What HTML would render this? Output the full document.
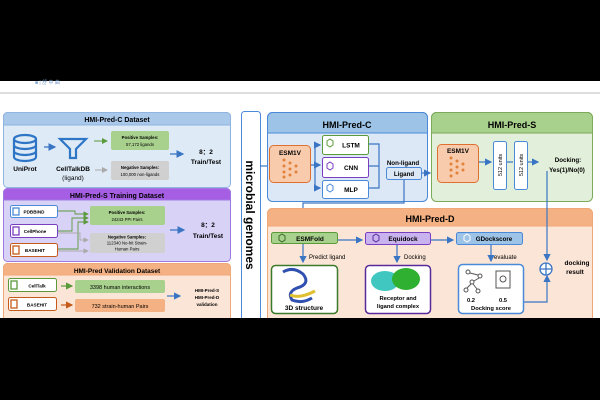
<!DOCTYPE html>
<html><head><meta charset="utf-8"><style>
html,body{margin:0;padding:0;width:600px;height:400px;overflow:hidden;background:#fff}
svg{display:block;font-family:"Liberation Sans",Arial,sans-serif;font-weight:bold}
</style></head><body>
<svg width="600" height="400" viewBox="0 0 600 400" xmlns="http://www.w3.org/2000/svg">
<defs>
<marker id="ab" markerWidth="6" markerHeight="6" refX="5" refY="3" orient="auto"><path d="M0,0 L6,3 L0,6z" fill="#3a75c4"/></marker>
<marker id="ag" markerWidth="6" markerHeight="6" refX="5" refY="3" orient="auto"><path d="M0,0 L6,3 L0,6z" fill="#5a9a3a"/></marker>
<marker id="ay" markerWidth="6" markerHeight="6" refX="5" refY="3" orient="auto"><path d="M0,0 L6,3 L0,6z" fill="#aaa"/></marker>
<marker id="ao" markerWidth="6" markerHeight="6" refX="5" refY="3" orient="auto"><path d="M0,0 L6,3 L0,6z" fill="#c55a1a"/></marker>
</defs>
<rect x="0" y="0" width="600" height="81" fill="#000"/>
<text x="35" y="84" font-size="5" fill="#7aa0d0" font-weight="normal">■ | 舒 中 曲</text>
<rect x="0" y="92" width="600" height="2" fill="#ddd"/>

<!-- LEFT: C Dataset -->
<rect x="3.5" y="112.5" width="227" height="75" rx="4" fill="#deebf7" stroke="#8fb4e0"/>
<path d="M3.5,125 V116.5 a4,4 0 0 1 4,-4 H226.5 a4,4 0 0 1 4,4 V125z" fill="#a9c8ea" stroke="#8fb4e0"/>
<text x="117" y="122" font-size="7" text-anchor="middle">HMI-Pred-C Dataset</text>
<g fill="none" stroke="#2e75c6" stroke-width="2.2">
<ellipse cx="25" cy="139" rx="11" ry="4"/><path d="M14,139 V157 a11,4 0 0 0 22,0 V139 M14,145 a11,4 0 0 0 22,0 M14,151 a11,4 0 0 0 22,0"/>
<path d="M60,139 H86 L76,149 V158 H70 V149z"/>
</g>
<text x="25" y="171" font-size="6.5" text-anchor="middle">UniProt</text>
<text x="73" y="171" font-size="6.5" text-anchor="middle">CellTalkDB</text>
<text x="73" y="180" font-size="6.5" text-anchor="middle" font-weight="normal">(ligand)</text>
<line x1="44" y1="147" x2="55" y2="147" stroke="#3a75c4" stroke-width="1.3" marker-end="url(#ab)"/>
<line x1="94" y1="141" x2="107" y2="141" stroke="#5a9a3a" stroke-width="1" marker-end="url(#ag)"/>
<line x1="95" y1="170" x2="107" y2="170" stroke="#aaa" stroke-width="1" marker-end="url(#ay)"/>
<rect x="111" y="131" width="58" height="19" rx="2" fill="#a9d18e"/>
<text x="140" y="139" font-size="4.3" text-anchor="middle">Positive Samples:</text>
<text x="140" y="146" font-size="4.3" text-anchor="middle" font-weight="normal">57,172 ligands</text>
<rect x="111" y="161" width="58" height="19" rx="2" fill="#d0d0d0"/>
<text x="140" y="169" font-size="4.3" text-anchor="middle">Negative Samples:</text>
<text x="140" y="176" font-size="4.3" text-anchor="middle" font-weight="normal">100,000 non-ligands</text>
<line x1="170" y1="154" x2="183" y2="154" stroke="#3a75c4" stroke-width="1.3" marker-end="url(#ab)"/>
<text x="206" y="154" font-size="6.5" text-anchor="middle">8：2</text>
<text x="206" y="164" font-size="6.5" text-anchor="middle">Train/Test</text>

<!-- LEFT: S Training -->
<rect x="3.5" y="188.5" width="227" height="73" rx="4" fill="#d9d2f7" stroke="#a07ae0"/>
<path d="M3.5,200 V192.5 a4,4 0 0 1 4,-4 H226.5 a4,4 0 0 1 4,4 V200z" fill="#a65fe4" stroke="#a07ae0"/>
<text x="117" y="198" font-size="7" text-anchor="middle">HMI-Pred-S Training Dataset</text>
<g font-size="4.6">
<rect x="10.5" y="205.5" width="47" height="12" rx="2" fill="#fff" stroke="#4a8ad8"/><text x="34" y="213.5" text-anchor="middle">PDBBIND</text>
<rect x="10.5" y="224.5" width="47" height="13" rx="2" fill="#fff" stroke="#7a3ec0"/><text x="35" y="233" text-anchor="middle">CellPhone</text>
<rect x="10.5" y="243.5" width="47" height="13" rx="2" fill="#fff" stroke="#c55a1a"/><text x="35" y="252" text-anchor="middle">BASEHIT</text>
</g>
<g fill="none" stroke-width="1.3"><rect x="13" y="208" width="6" height="7" stroke="#4a8ad8"/><rect x="13" y="227" width="6" height="8" stroke="#7a3ec0"/><rect x="13" y="246" width="6" height="8" stroke="#c55a1a"/></g>
<g fill="none" stroke="#5a9a3a" stroke-width="0.9"><path d="M58,211 H75 V214 H88" marker-end="url(#ag)"/><path d="M58,231 H72 V218 H88" marker-end="url(#ag)"/><path d="M58,249 H78 V222 H88" marker-end="url(#ag)"/></g>
<g fill="none" stroke="#aaa" stroke-width="0.9"><path d="M58,233 H80 V240 H88" marker-end="url(#ay)"/><path d="M58,251 H88" marker-end="url(#ay)"/></g>
<rect x="90" y="206" width="75" height="19" rx="2" fill="#a9d18e"/>
<text x="127" y="214" font-size="4.3" text-anchor="middle">Positive Samples:</text>
<text x="127" y="221" font-size="4.3" text-anchor="middle" font-weight="normal">24243 PPI Pairs</text>
<rect x="90" y="233" width="75" height="20" rx="2" fill="#d0d0d0"/>
<text x="127" y="238.5" font-size="4.3" text-anchor="middle">Negative Samples:</text>
<text x="127" y="244.5" font-size="4.3" text-anchor="middle" font-weight="normal">112340 No-hit Strain-</text>
<text x="127" y="250.5" font-size="4.3" text-anchor="middle" font-weight="normal">Human Pairs</text>
<line x1="170" y1="230" x2="184" y2="230" stroke="#3a75c4" stroke-width="1.3" marker-end="url(#ab)"/>
<text x="208" y="227" font-size="6.5" text-anchor="middle">8：2</text>
<text x="208" y="238" font-size="6.5" text-anchor="middle">Train/Test</text>

<!-- LEFT: Validation -->
<rect x="3.5" y="263.5" width="227" height="60" rx="4" fill="#fbe5d6" stroke="#f0a878"/>
<path d="M3.5,275 V267.5 a4,4 0 0 1 4,-4 H226.5 a4,4 0 0 1 4,4 V275z" fill="#f4b183" stroke="#f0a878"/>
<text x="117" y="273" font-size="6.5" text-anchor="middle">HMI-Pred Validation Dataset</text>
<rect x="8.5" y="278.5" width="48" height="13" rx="2" fill="#fff" stroke="#5a9a3a"/><rect x="11" y="281" width="6" height="8" fill="none" stroke="#5a9a3a" stroke-width="1.3"/><text x="37" y="287.5" font-size="4.6" text-anchor="middle">CellTalk</text>
<rect x="8.5" y="297.5" width="48" height="13" rx="2" fill="#fff" stroke="#c55a1a"/><rect x="11" y="300" width="6" height="8" fill="none" stroke="#c55a1a" stroke-width="1.3"/><text x="37" y="306.5" font-size="4.6" text-anchor="middle">BASEHIT</text>
<line x1="61" y1="286" x2="72" y2="286" stroke="#5a9a3a" stroke-width="1.2" marker-end="url(#ag)"/>
<line x1="61" y1="305" x2="72" y2="305" stroke="#c55a1a" stroke-width="1.2" marker-end="url(#ao)"/>
<rect x="75" y="280" width="90" height="13" rx="2" fill="#a9d18e"/><text x="120" y="289" font-size="5.5" text-anchor="middle" font-weight="normal">3398 human interactions</text>
<rect x="75" y="299" width="90" height="13" rx="2" fill="#f4b183"/><text x="120" y="308" font-size="5.5" text-anchor="middle" font-weight="normal">732 strain-human Pairs</text>
<line x1="167" y1="296" x2="180" y2="296" stroke="#3a75c4" stroke-width="1.2" marker-end="url(#ab)"/>
<text x="207" y="292" font-size="4.5" text-anchor="middle">HMI-Pred-S</text>
<text x="207" y="299" font-size="4.5" text-anchor="middle">HMI-Pred-D</text>
<text x="207" y="306" font-size="4.5" text-anchor="middle">validation</text>

<!-- microbial genomes -->
<rect x="241.5" y="111.5" width="19" height="210" rx="3" fill="#fff" stroke="#4a8ad8"/>
<text transform="translate(246,215) rotate(90)" font-size="12" text-anchor="middle" fill="#000">microbial genomes</text>
<line x1="260" y1="166" x2="268" y2="166" stroke="#3a75c4" stroke-width="1.2"/>

<!-- HMI-Pred-C -->
<rect x="267.5" y="112.5" width="160" height="89" rx="5" fill="#dce8f5" stroke="#4a8ad8"/>
<path d="M267.5,133 V117.5 a5,5 0 0 1 5,-5 H422.5 a5,5 0 0 1 5,5 V133z" fill="#9dc3e6" stroke="#4a8ad8"/>
<text x="347" y="128" font-size="9" text-anchor="middle">HMI-Pred-C</text>
<rect x="269.5" y="145.5" width="41" height="37" rx="4" fill="#f8cbad" stroke="#e07030"/>
<text x="290" y="155" font-size="6.5" text-anchor="middle">ESM1V</text>
<g fill="#e0823a"><circle cx="284" cy="160" r="1.5"/><circle cx="284" cy="166" r="1.5"/><circle cx="284" cy="172" r="1.5"/><circle cx="284" cy="177" r="1.5"/><circle cx="290" cy="163" r="1.5"/><circle cx="290" cy="169" r="1.5"/><circle cx="290" cy="175" r="1.5"/><circle cx="296" cy="166" r="1.5"/><circle cx="296" cy="172" r="1.5"/></g>
<g fill="none" stroke="#3a75c4" stroke-width="1.2"><path d="M311,165 H315 V145 H320" marker-end="url(#ab)"/><path d="M315,165 H320" marker-end="url(#ab)"/><path d="M315,165 V188 H320" marker-end="url(#ab)"/>
<path d="M369,144 H379 V188 H369 M369,166 H379"/><path d="M404,180 V203 H303 V226"  marker-end="url(#ab)"/><path d="M421,173 H430" marker-end="url(#ab)"/></g>
<rect x="322.5" y="135.5" width="46" height="19" rx="2" fill="#fff" stroke="#5a9a3a"/><text x="351" y="147.5" font-size="6.5" text-anchor="middle">LSTM</text>
<rect x="322.5" y="157.5" width="46" height="20" rx="2" fill="#fff" stroke="#7a3ec0"/><text x="351" y="170" font-size="6.5" text-anchor="middle">CNN</text>
<rect x="322.5" y="180.5" width="46" height="18" rx="2" fill="#fff" stroke="#4a8ad8"/><text x="351" y="192" font-size="6.5" text-anchor="middle">MLP</text>
<g fill="none" stroke-width="1"><path d="M327,141 l3,-2 l3,2 v4 l-3,2 l-3,-2z" stroke="#5a9a3a"/><path d="M327,164 l3,-2 l3,2 v4 l-3,2 l-3,-2z" stroke="#7a3ec0"/><path d="M327,186 l3,-2 l3,2 v4 l-3,2 l-3,-2z" stroke="#4a8ad8"/></g>
<text x="403" y="165" font-size="6.2" text-anchor="middle">Non-ligand</text>
<rect x="386.5" y="167.5" width="35" height="12" rx="2" fill="#dce8f5" stroke="#4a8ad8"/><text x="404" y="176" font-size="6.2" text-anchor="middle">Ligand</text>

<!-- HMI-Pred-S -->
<rect x="431.5" y="112.5" width="161" height="89" rx="5" fill="#e2efda" stroke="#7aaa5a"/>
<path d="M431.5,133 V117.5 a5,5 0 0 1 5,-5 H587.5 a5,5 0 0 1 5,5 V133z" fill="#a9d18e" stroke="#7aaa5a"/>
<text x="512" y="128" font-size="9" text-anchor="middle">HMI-Pred-S</text>
<rect x="437.5" y="144.5" width="41" height="38" rx="4" fill="#f8cbad" stroke="#e07030"/>
<text x="458" y="153" font-size="6.5" text-anchor="middle">ESM1V</text>
<g fill="#e0823a"><circle cx="451" cy="158" r="1.5"/><circle cx="451" cy="164" r="1.5"/><circle cx="451" cy="170" r="1.5"/><circle cx="451" cy="176" r="1.5"/><circle cx="457" cy="161" r="1.5"/><circle cx="457" cy="167" r="1.5"/><circle cx="457" cy="173" r="1.5"/><circle cx="463" cy="164" r="1.5"/><circle cx="463" cy="170" r="1.5"/></g>
<line x1="479" y1="162" x2="491" y2="162" stroke="#3a75c4" stroke-width="1.2" marker-end="url(#ab)"/>
<line x1="507" y1="162" x2="513" y2="162" stroke="#3a75c4" stroke-width="1.2"/>
<line x1="528" y1="162" x2="538" y2="162" stroke="#3a75c4" stroke-width="1.2" marker-end="url(#ab)"/>
<rect x="493.5" y="141.5" width="13" height="48" rx="2" fill="#fff" stroke="#4a8ad8"/>
<rect x="514.5" y="141.5" width="13" height="48" rx="2" fill="#fff" stroke="#4a8ad8"/>
<text transform="translate(502,165) rotate(-90)" font-size="5.5" text-anchor="middle" font-weight="normal">512 units</text>
<text transform="translate(523,165) rotate(-90)" font-size="5.5" text-anchor="middle" font-weight="normal">512 units</text>
<text x="568" y="162" font-size="6.2" text-anchor="middle">Docking:</text>
<text x="567" y="172" font-size="6.2" text-anchor="middle">Yes(1)/No(0)</text>

<!-- HMI-Pred-D -->
<rect x="267.5" y="208.5" width="325" height="115" rx="5" fill="#fbe5d6" stroke="#f0a878"/>
<path d="M267.5,226 V213.5 a5,5 0 0 1 5,-5 H587.5 a5,5 0 0 1 5,5 V226z" fill="#f4b183" stroke="#f0a878"/>
<text x="430" y="222" font-size="9" text-anchor="middle">HMI-Pred-D</text>
<rect x="271.5" y="232.5" width="66" height="11" rx="2" fill="#a9d18e" stroke="#5a9a3a"/><text x="310" y="241" font-size="6.5" text-anchor="middle">ESMFold</text>
<rect x="365.5" y="232.5" width="65" height="12" rx="2" fill="#c9b3ee" stroke="#7a3ec0"/><text x="403" y="241" font-size="6.5" text-anchor="middle">Equidock</text>
<rect x="456.5" y="232.5" width="66" height="12" rx="2" fill="#9dc3e6" stroke="#4a8ad8"/><text x="494" y="241" font-size="6.2" text-anchor="middle">GDockscore</text>
<g fill="none" stroke-width="1"><path d="M279,236 l3,-2 l3,2 v4 l-3,2 l-3,-2z" stroke="#3a6a2a"/><path d="M373,236 l3,-2 l3,2 v4 l-3,2 l-3,-2z" stroke="#5a2a9a"/><path d="M464,236 l3,-2 l3,2 v4 l-3,2 l-3,-2z" stroke="#fff"/></g>
<g fill="none" stroke="#3a75c4" stroke-width="1.2">
<path d="M338,240 H362" marker-end="url(#ab)"/><path d="M431,240 H453" marker-end="url(#ab)"/>
<path d="M303,244 V262" marker-end="url(#ab)"/><path d="M397,245 V262" marker-end="url(#ab)"/><path d="M491,245 V261" marker-end="url(#ab)"/>
<path d="M547,171 V260" marker-end="url(#ab)"/><path d="M524,302 H547 V276" marker-end="url(#ab)"/>
</g>
<text x="309" y="259" font-size="6" font-weight="normal">Predict ligand</text>
<text x="404" y="259" font-size="6" font-weight="normal">Docking</text>
<text x="494" y="259" font-size="6" font-weight="normal">evaluate</text>
<rect x="271.5" y="265.5" width="66" height="48" rx="4" fill="#fff" stroke="#3a7a2a" stroke-width="1.5"/>
<path d="M283,272 q10,-6 20,2 q8,10 -6,14 q-10,4 -5,12 q10,4 20,-2" fill="none" stroke="#3050b0" stroke-width="3"/>
<path d="M290,295 q10,4 25,-4" fill="none" stroke="#e0c030" stroke-width="3"/>
<text x="304" y="310" font-size="6.5" text-anchor="middle">3D structure</text>
<rect x="365.5" y="265.5" width="65" height="48" rx="4" fill="#fff" stroke="#5a2a9a" stroke-width="1.5"/>
<ellipse cx="385" cy="281" rx="14" ry="10" fill="#40c8c0"/><ellipse cx="406" cy="279" rx="14" ry="11" fill="#30b030"/>
<text x="398" y="300" font-size="5.8" text-anchor="middle">Receptor and</text>
<text x="398" y="308" font-size="5.8" text-anchor="middle">ligand complex</text>
<rect x="458.5" y="264.5" width="65" height="49" rx="4" fill="#fff" stroke="#4a8ad8" stroke-width="1.5"/>
<g fill="none" stroke="#555" stroke-width="1"><circle cx="468" cy="272" r="2"/><circle cx="480" cy="276" r="2"/><circle cx="472" cy="282" r="2"/><circle cx="466" cy="290" r="2"/><circle cx="478" cy="291" r="2"/><path d="M470,273 L478,275 M474,281 L479,278 M471,284 L467,288 M473,284 L477,289"/>
<rect x="496" y="271" width="14" height="17"/><circle cx="503" cy="279" r="3"/></g>
<text x="471" y="302" font-size="5.8" text-anchor="middle">0.2</text>
<text x="503" y="302" font-size="5.8" text-anchor="middle">0.5</text>
<text x="491" y="310" font-size="5.8" text-anchor="middle">Docking score</text>
<circle cx="546" cy="269" r="6" fill="#fff" stroke="#3a75c4" stroke-width="1.3"/>
<path d="M540,269 H552 M546,263 V275" stroke="#3a75c4" stroke-width="1.3"/>
<text x="577" y="265" font-size="6.5" text-anchor="middle">docking</text>
<text x="575" y="274" font-size="6.5" text-anchor="middle">result</text>
<rect x="0" y="318" width="600" height="82" fill="#000"/>
</svg>
</body></html>
